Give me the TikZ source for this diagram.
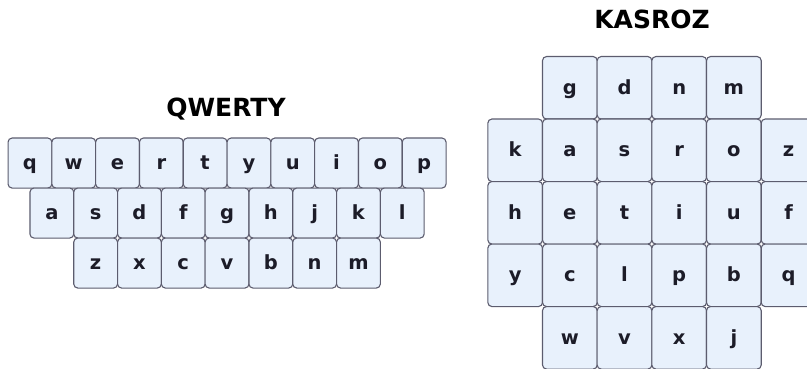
\documentclass[tikz,border=0pt]{standalone}
\usepackage{fontspec}
\setmainfont{DejaVu Sans}

\definecolor{keyfill}{HTML}{E8F1FC}
\definecolor{keyedge}{HTML}{5C5C6E}
\definecolor{keytext}{HTML}{1C1C28}

\tikzset{
  key/.style={draw=keyedge, fill=keyfill, line width=1.1pt, rounded corners=4pt,
    inner sep=0pt, anchor=north west, text=keytext,
    font=\fontsize{19.5}{20}\selectfont\bfseries, text height=17.5pt, text depth=4.7pt},
  qkey/.style={key, minimum width=43.8pt, minimum height=50pt},
  kkey/.style={key, minimum width=54.67pt, minimum height=62.5pt},
  layouttitle/.style={font=\fontsize{25}{28}\selectfont\bfseries, anchor=base}
}

\begin{document}
\begin{tikzpicture}[x=1pt,y=-1pt]
      \path[use as bounding box, clip] (0,0) rectangle (807,369);
      % QWERTY
      \node[layouttitle] (qw-title) at (226,116.5) {QWERTY};
      \foreach \ch [count=\i from 0] in {q,w,e,r,t,y,u,i,o,p}
        \node[qkey] (qw-\ch) at (7.5+43.8*\i,137.5) {\ch};
      \foreach \ch [count=\i from 0] in {a,s,d,f,g,h,j,k,l}
        \node[qkey] (qw-\ch) at (29.4+43.8*\i,187.5) {\ch};
      \foreach \ch [count=\i from 0] in {z,x,c,v,b,n,m}
        \node[qkey] (qw-\ch) at (73.2+43.8*\i,237.5) {\ch};
      % KASROZ
      \node[layouttitle] (ks-title) at (652,28.3) {KASROZ};
      \foreach \row/\first/\keys in {0/1/{g,d,n,m}, 1/0/{k,a,s,r,o,z},
          2/0/{h,e,t,i,u,f}, 3/0/{y,c,l,p,b,q}, 4/1/{w,v,x,j}}
        \foreach \ch [count=\i from \first] in \keys
          \node[kkey] (ks-\ch) at (487.3+54.67*\i,56+62.5*\row) {\ch};
    \end{tikzpicture}
\end{document}
